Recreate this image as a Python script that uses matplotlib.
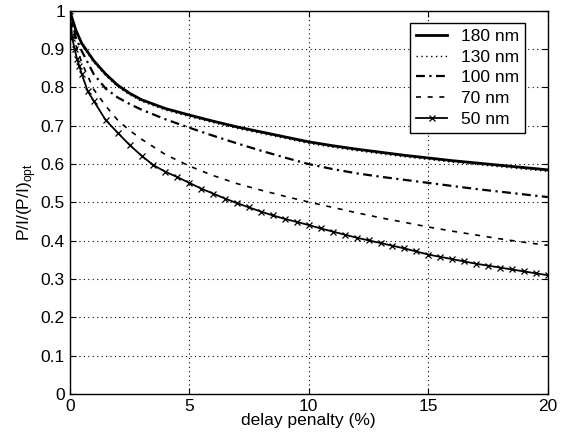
import numpy as np
import matplotlib.pyplot as plt

plt.rcParams['font.family'] = ['Liberation Sans', 'DejaVu Sans']

# delay penalty (%) sample points
x_line = [0, 0.25, 0.5, 1, 1.5, 2, 2.5, 3, 4, 5, 6, 7, 8, 9, 10,
          11, 12, 13, 14, 15, 16, 17, 18, 19, 20]

nm180 = [1.0, 0.95, 0.915, 0.87, 0.835, 0.806, 0.785, 0.768, 0.745, 0.728,
         0.712, 0.697, 0.684, 0.671, 0.658, 0.648, 0.639, 0.631, 0.623,
         0.616, 0.609, 0.603, 0.597, 0.591, 0.585]
nm130 = [1.0, 0.947, 0.911, 0.866, 0.831, 0.802, 0.781, 0.764, 0.741, 0.724,
         0.708, 0.693, 0.680, 0.667, 0.654, 0.644, 0.635, 0.627, 0.619,
         0.612, 0.605, 0.599, 0.593, 0.587, 0.581]
nm100 = [1.0, 0.93, 0.895, 0.835, 0.797, 0.774, 0.757, 0.742, 0.717, 0.695,
         0.674, 0.654, 0.635, 0.617, 0.600, 0.587, 0.576, 0.567, 0.559,
         0.551, 0.543, 0.535, 0.528, 0.521, 0.514]
nm70 = [1.0, 0.91, 0.865, 0.795, 0.752, 0.715, 0.688, 0.665, 0.625, 0.595,
        0.570, 0.549, 0.532, 0.516, 0.501, 0.487, 0.473, 0.460, 0.448,
        0.436, 0.425, 0.415, 0.405, 0.396, 0.388]

x_50 = [0, 0.1, 0.2, 0.3, 0.4, 0.5, 0.75, 1, 1.5, 2, 2.5, 3, 3.5, 4, 4.5,
        5, 5.5, 6, 6.5, 7, 7.5, 8, 8.5, 9, 9.5, 10, 10.5, 11, 11.5, 12,
        12.5, 13, 13.5, 14, 14.5, 15, 15.5, 16, 16.5, 17, 17.5, 18, 18.5,
        19, 19.5, 20]
nm50 = [1.0, 0.93, 0.9, 0.875, 0.855, 0.835, 0.79, 0.765, 0.715, 0.682,
        0.65, 0.622, 0.597, 0.58, 0.566, 0.551, 0.536, 0.523, 0.51, 0.498,
        0.487, 0.476, 0.466, 0.457, 0.449, 0.441, 0.432, 0.424, 0.416,
        0.408, 0.401, 0.394, 0.387, 0.38, 0.372, 0.364, 0.358, 0.352,
        0.346, 0.34, 0.335, 0.33, 0.325, 0.32, 0.315, 0.31]

fig = plt.figure(figsize=(5.63, 4.33), dpi=100)
ax = fig.add_axes([0.124, 0.09, 0.849, 0.885])

ax.plot(x_line, nm180, color='black', lw=2.0, ls='-', label='180 nm')
ax.plot(x_line, nm130, color='black', lw=1.0, ls=(0, (1, 2.5)), label='130 nm')
ax.plot(x_line, nm100, color='black', lw=1.6, ls=(0, (4, 2, 1, 2)), label='100 nm')
ax.plot(x_line, nm70, color='black', lw=1.2, ls=(0, (3, 4)), label='70 nm')
ax.plot(x_50, nm50, color='black', lw=1.3, ls='-', marker='x', ms=4,
        mew=0.9, label='50 nm')

ax.set_xlim(0, 20)
ax.set_ylim(0, 1)
ax.set_xticks([0, 5, 10, 15, 20])
ax.set_yticks(np.arange(0, 1.01, 0.1))
ax.set_yticklabels(['0', '0.1', '0.2', '0.3', '0.4', '0.5', '0.6',
                    '0.7', '0.8', '0.9', '1'])
ax.tick_params(direction='in', labelsize=12.5, length=4, top=True, right=True)
ax.grid(True, color='black', ls=(0, (1, 3)), lw=0.8)

for s in ax.spines.values():
    s.set_linewidth(1.0)

ax.set_xlabel('delay penalty (%)', fontsize=12.5, labelpad=-1)
ax.set_ylabel(r'P/I/(P/I)$_\mathregular{opt}$', fontsize=12.5, labelpad=2)

leg = ax.legend(loc='upper right', fontsize=12.5, frameon=True, fancybox=False,
                edgecolor='black', framealpha=1, handlelength=1.8,
                borderpad=0.35, labelspacing=0.32, borderaxespad=0,
                bbox_to_anchor=(0.953, 0.969))
leg.get_frame().set_linewidth(1.0)

fig.savefig('out.png', dpi=100)
